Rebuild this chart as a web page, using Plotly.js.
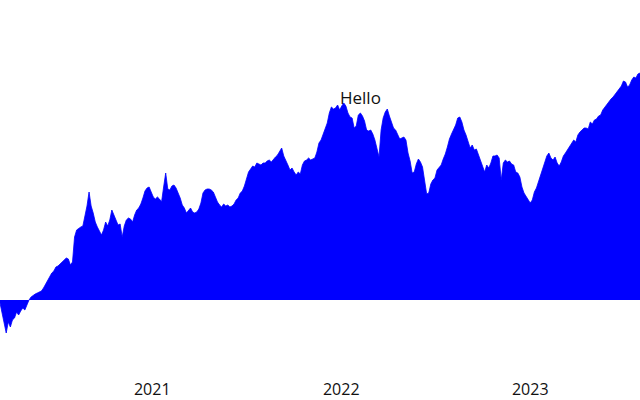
<!DOCTYPE html>
<html>
<head>
<meta charset="utf-8">
<script src="https://cdn.plot.ly/plotly-3.0.1.min.js"></script>
<style>html,body{margin:0;padding:0;background:#fff}#chart{width:640px;height:400px}</style>
</head>
<body>
<div id="chart"></div>
<script>
// Series sampled every 4 days starting 2020-03-13
const startDate = '2020-03-13';
const endDate = '2023-08-01';
const stepDays = 4;
const values = [
-1.5,-6,-11,-16.5,-11,-13.5,-10,-9,-6,-7.5,-5.5,-4,-5,-2.5,0,1.5,2.5,3,3.5,4,
4.5,6,8,9.5,12,13.5,14.5,16.5,17,18,19.5,20,21,20.5,17.5,19,31.5,35,36,36.5,
37,42,47,54,47,43.5,39,36.5,34.5,32.5,35,39,37,40,45,42,40,37.5,38,31.5,
37,40,41,40.5,39,42.5,45,46,48,51,54.5,56,56.5,54,51.5,50.5,51.5,50.5,49,56.5,
63.5,55.5,55,57,57.5,56,53.5,51,47.5,46,43.5,45,46,44,43.5,44,45.5,48.5,53.5,55,
55.5,55.5,55,54,51,49,47.5,46.5,48,47,47.5,46.5,47,48,50,51,53.5,54.5,57,61,
64,65.5,67,66.5,68.5,68,67.5,68.5,68.5,69.5,70,69,70.5,71.5,72.5,74,76,72,70,67.5,
65,66,64,62.5,64,63,67.5,69.5,70,71,70,70.5,71,74,78.5,80,83,85.5,88.5,93.5,
96.5,95.5,96,97.5,95,97,98.5,97,93.5,91.5,91,86,87,92.5,93.5,92,89.5,85,84.5,85,
83,80,75.5,71.5,85,91,94,95.5,92,89,86,85,82.5,80.5,81,81.5,80,73.5,69.5,63.5,
64,68,70.5,69,66.5,59,53,53.5,58,60,61,65,66,67.5,70.5,73,76.5,80.5,83,85.5,
87.5,91,91.5,89,85,82.5,79.5,76,77.5,75,75.5,72.5,70,66,64,67.5,66,68.5,72,72,
72.5,71,60,68.5,70,69,69.5,68,67.5,64,63.5,61.5,56.5,53.5,52,50.5,48.5,50,54,56,
59,62,65.5,68.5,72,73.5,71,70,71.5,68.5,67,69,72,73.5,75,77,78.5,80,79,82.5,
84,85,86,86,85.5,89,88,90,90.5,92,92.5,95,96.5,97.5,99.5,100.5,101.5,103,104.5,105.5,
107,109.5,109,106.5,107.5,110,111.5,111,113,113.5
];
const tickLabels = ['2021', '2022', '2023'];
const tickDates = ['2021-01-01', '2022-01-01', '2023-01-01'];
const noteText = 'Hello';
const noteDate = '2022-02-08';
const noteValue = 101.5;

const trace = {
  type: 'scatter',
  mode: 'lines',
  x0: startDate,
  dx: stepDays * 86400000,
  y: values,
  fill: 'tozeroy',
  fillcolor: '#0000ff',
  line: {color: '#0000ff', width: 0.8},
  hoverinfo: 'skip'
};

const layout = {
  width: 640,
  height: 400,
  margin: {l: 0, r: 0, t: 0, b: 22},
  paper_bgcolor: '#ffffff',
  plot_bgcolor: '#ffffff',
  showlegend: false,
  font: {family: 'Open Sans, sans-serif', size: 16, color: '#111'},
  xaxis: {
    type: 'date',
    range: [startDate, endDate],
    tickvals: tickDates,
    ticktext: tickLabels,
    showgrid: false,
    zeroline: false,
    showline: false,
    ticks: ''
  },
  yaxis: {
    range: [-39, 150],
    visible: false,
    showgrid: false,
    zeroline: false
  },
  annotations: [{
    x: noteDate,
    y: noteValue,
    xref: 'x',
    yref: 'y',
    text: noteText,
    showarrow: false,
    font: {size: 17, color: '#111'}
  }]
};

Plotly.newPlot('chart', [trace], layout, {displayModeBar: false, staticPlot: true});
</script>
</body>
</html>
